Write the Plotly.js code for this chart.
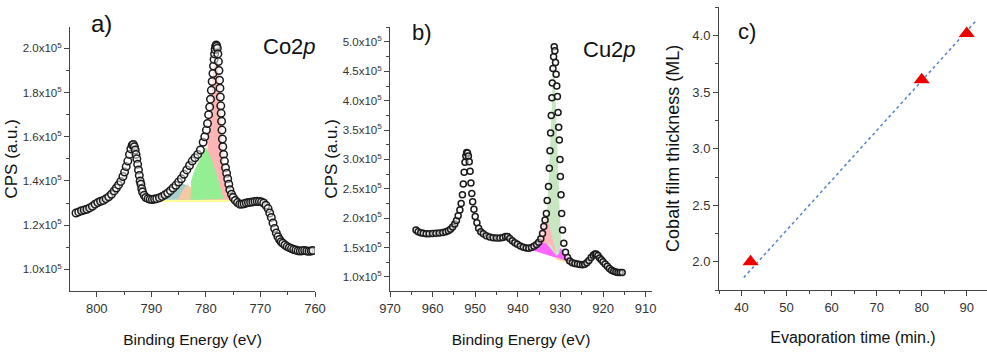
<!DOCTYPE html>
<html>
<head>
<meta charset="utf-8">
<script src="https://cdn.plot.ly/plotly-3.0.1.min.js"></script>
<style>html,body{margin:0;padding:0;background:#fff;}#chart{width:987px;height:355px;}</style>
</head>
<body>
<div id="chart"></div>
<script>
// ---------- Panel a: Co2p spectrum (counts in units of 1e5) ----------
const coBE = [
803.8,803.3,802.8,802.3,801.8,801.3,800.8,800.3,799.8,799.3,
798.8,798.3,797.8,797.3,796.8,796.4,796.0,795.6,795.2,794.9,
794.6,794.3,794.0,793.75,793.5,793.3,793.1,792.95,792.8,792.65,
792.5,792.35,792.2,792.05,791.9,791.75,791.6,791.3,791.0,790.6,
790.2,789.8,789.4,789.0,788.5,788.0,787.5,787.0,786.5,786.0,
785.5,785.0,784.5,784.0,783.5,783.0,782.5,782.0,781.5,781.0,
780.5,780.2,779.9,779.7,779.5,779.3,779.15,779.0,778.85,778.7,
778.6,778.5,778.4,778.3,778.2,778.1,778.0,777.9,777.8,777.7,
777.6,777.5,777.42,777.35,777.27,777.2,777.12,777.05,776.97,776.9,
776.75,776.6,776.4,776.2,776.0,775.8,775.6,775.3,775.0,774.6,
774.2,773.8,773.4,773.0,772.6,772.2,771.8,771.4,771.0,770.6,
770.2,769.8,769.4,769.0,768.6,768.3,768.0,767.7,767.4,767.1,
766.8,766.5,766.2,765.9,765.5,765.1,764.7,764.3,763.9,763.5,
763.1,762.7,762.3,761.9,761.5,761.1,760.7,760.4];
const coCPS = [
1.255,1.26,1.265,1.268,1.272,1.278,1.285,1.295,1.302,1.308,
1.312,1.32,1.328,1.34,1.355,1.368,1.382,1.398,1.42,1.44,
1.465,1.49,1.52,1.545,1.562,1.565,1.555,1.54,1.52,1.50,
1.475,1.45,1.425,1.40,1.385,1.365,1.35,1.335,1.325,1.32,
1.317,1.316,1.318,1.32,1.324,1.33,1.337,1.345,1.356,1.368,
1.38,1.395,1.41,1.43,1.45,1.47,1.49,1.505,1.52,1.54,
1.575,1.60,1.63,1.66,1.70,1.735,1.77,1.81,1.85,1.886,
1.92,1.95,1.975,1.995,2.01,2.015,2.01,2.0,1.975,1.94,
1.90,1.856,1.82,1.78,1.74,1.706,1.67,1.63,1.59,1.555,
1.52,1.49,1.46,1.435,1.41,1.385,1.36,1.34,1.325,1.312,
1.302,1.295,1.295,1.297,1.30,1.302,1.304,1.305,1.307,1.308,
1.307,1.305,1.30,1.29,1.275,1.255,1.235,1.21,1.185,1.165,
1.148,1.135,1.125,1.118,1.11,1.103,1.098,1.094,1.09,1.087,
1.084,1.083,1.084,1.085,1.083,1.082,1.083,1.085];

// fitted components (Co2p), outline polygons
const coYellowX = [788.3,788.2,782.0,777.0,776.4,775.9,775.4,775.0,788.3];
const coYellowY = [1.305,1.322,1.322,1.322,1.338,1.345,1.33,1.305,1.305];
const coPeachX = [785.2,784.2,783.3,782.5,781.5,785.2];
const coPeachY = [1.315,1.36,1.385,1.36,1.315,1.315];
const coTealX = [788.0,786.5,785.3,784.3,783.5,782.5,781.5,780.2,788.0];
const coTealY = [1.315,1.34,1.37,1.39,1.38,1.355,1.33,1.315,1.315];
const coPinkX = [780.6,780.0,779.5,779.1,778.7,778.3,778.1,777.85,777.5,777.2,776.9,776.5,776.0,775.5,775.2,780.6];
const coPinkY = [1.315,1.45,1.62,1.72,1.88,1.97,1.99,1.96,1.82,1.66,1.52,1.42,1.36,1.325,1.315,1.315];
const coGreenX = [782.8,782.7,782.2,781.5,780.7,780.0,779.0,778.1,777.3,776.7,782.8];
const coGreenY = [1.315,1.40,1.44,1.48,1.52,1.555,1.50,1.435,1.37,1.318,1.315];

// ---------- Panel b: Cu2p spectrum (counts in units of 1e5) ----------
const cuBE = [
963.9,963.4,962.8,962.2,961.5,960.8,960.0,959.2,958.4,957.6,
956.9,956.3,955.8,955.3,954.8,954.4,954.0,953.6,953.3,953.0,
952.8,952.6,952.4,952.2,952.0,951.8,951.6,951.4,951.2,951.0,
950.8,950.6,950.3,950.0,949.6,949.2,948.7,948.1,947.4,946.6,
945.8,945.0,944.2,943.5,942.9,942.4,941.9,941.3,940.7,940.1,
939.4,938.7,938.0,937.4,936.8,936.2,935.6,935.1,934.6,934.2,
933.9,933.6,933.3,933.1,932.8,932.6,932.45,932.3,932.15,932.0,
931.9,931.75,931.6,931.45,931.3,931.15,931.0,930.85,930.7,930.55,
930.4,930.25,930.1,930.0,929.85,929.7,929.5,929.2,928.8,928.3,
927.8,927.2,926.6,926.0,925.4,924.8,924.3,923.8,923.3,922.8,
922.3,921.9,921.6,921.2,920.8,920.4,920.0,919.5,919.0,918.5,
918.0,917.5,917.0,916.5,916.0,915.5];
const cuCPS = [
1.80,1.77,1.75,1.744,1.735,1.735,1.74,1.742,1.748,1.755,
1.77,1.785,1.81,1.85,1.90,1.96,2.04,2.14,2.25,2.40,
2.58,2.78,2.95,3.06,3.12,3.11,3.06,2.96,2.80,2.60,
2.42,2.28,2.15,2.03,1.92,1.83,1.77,1.735,1.70,1.678,
1.668,1.662,1.662,1.672,1.69,1.686,1.655,1.615,1.58,1.555,
1.528,1.505,1.49,1.488,1.50,1.52,1.55,1.59,1.65,1.74,
1.86,1.97,2.08,2.30,2.54,2.85,3.15,3.45,3.75,4.05,
4.30,4.55,4.75,4.92,4.85,4.65,4.45,4.25,4.07,3.80,
3.55,3.33,3.00,2.71,2.40,2.08,1.80,1.574,1.42,1.33,
1.27,1.24,1.23,1.22,1.21,1.208,1.215,1.24,1.28,1.33,
1.37,1.388,1.39,1.365,1.32,1.29,1.26,1.22,1.18,1.145,
1.115,1.095,1.082,1.077,1.074,1.073];

// fitted components (Cu2p), outline polygons
const cuMagentaX = [937.3,936.0,934.8,933.5,932.5,931.5,930.5,929.5,928.5,927.3,926.0,925.3,925.3,931.2,937.3];
const cuMagentaY = [1.48,1.54,1.59,1.62,1.63,1.60,1.53,1.45,1.36,1.28,1.23,1.21,1.20,1.33,1.47];
const cuPeachX = [931.0,928.0,925.3,925.3,928.0,931.0];
const cuPeachY = [1.33,1.265,1.20,1.18,1.24,1.295];
const cuGreenX = [933.4,933.0,932.5,932.0,931.8,931.6,931.4,931.0,930.6,930.2,929.8,930.3,930.9,933.4];
const cuGreenY = [1.58,2.2,3.0,3.9,4.6,4.85,4.6,3.9,3.0,2.2,1.6,1.40,1.36,1.58];
const cuPinkX = [935.5,935.0,934.3,933.7,933.2,932.6,932.0,931.4,931.0,932.5,935.5];
const cuPinkY = [1.60,1.70,1.85,1.98,2.04,1.86,1.66,1.48,1.40,1.56,1.60];

// ---------- Panel c: film thickness vs evaporation time ----------
const evapTime = [42, 80, 90];
const thickness = [2.0, 3.61, 4.02];
const fitTime = [40.5, 92];
const fitThick = [1.86, 4.13];

// tick labels
const coTickVals = [1.0, 1.2, 1.4, 1.6, 1.8, 2.0];
const coTickText = coTickVals.map(v => v.toFixed(1) + 'x10<sup>5</sup>');
const cuTickVals = [1.0, 1.5, 2.0, 2.5, 3.0, 3.5, 4.0, 4.5, 5.0];
const cuTickText = cuTickVals.map(v => v.toFixed(1) + 'x10<sup>5</sup>');

// ---------- build ----------
function poly(x, y, color, xa, ya) {
  return {x: x, y: y, xaxis: xa, yaxis: ya, type: 'scatter', mode: 'lines',
          fill: 'toself', fillcolor: color, line: {width: 0, color: color},
          hoverinfo: 'skip', showlegend: false};
}
const dataMarker = (sz) => ({symbol: 'circle', size: sz, color: 'rgba(255,255,255,0.5)',
                             line: {color: '#1a1a1a', width: 1.5}});

const traces = [
  poly(coYellowX, coYellowY, '#ffff99', 'x', 'y'),
  poly(coTealX, coTealY, '#a6cfcd', 'x', 'y'),
  poly(coPeachX, coPeachY, '#f5c9a3', 'x', 'y'),
  poly(coPinkX, coPinkY, '#ffb5b5', 'x', 'y'),
  poly(coGreenX, coGreenY, '#94ee94', 'x', 'y'),
  {x: coBE, y: coCPS, xaxis: 'x', yaxis: 'y', type: 'scatter', mode: 'markers',
   marker: dataMarker(7.5), showlegend: false},

  poly(cuMagentaX, cuMagentaY, '#ff66ff', 'x2', 'y2'),
  poly(cuPeachX, cuPeachY, '#ffcfa8', 'x2', 'y2'),
  poly(cuGreenX, cuGreenY, '#c8e6c2', 'x2', 'y2'),
  poly(cuPinkX, cuPinkY, '#ffb8b8', 'x2', 'y2'),
  {x: cuBE, y: cuCPS, xaxis: 'x2', yaxis: 'y2', type: 'scatter', mode: 'markers',
   marker: dataMarker(6), showlegend: false},

  {x: fitTime, y: fitThick, xaxis: 'x3', yaxis: 'y3', type: 'scatter', mode: 'lines',
   line: {color: '#5a88cc', width: 1.6, dash: 'dot'}, showlegend: false},
  {x: evapTime, y: thickness, xaxis: 'x3', yaxis: 'y3', type: 'scatter', mode: 'markers',
   marker: {symbol: 'triangle-up', size: 14, color: '#ee0000', line: {width: 0}}, showlegend: false}
];

const W = 987, H = 355;
const tickFont = {family: 'Liberation Sans Narrow, Arial Narrow, Liberation Sans, Arial, sans-serif', size: 11.5, color: '#333'};
const xTickFont = Object.assign({}, tickFont, {size: 13});
const beFont = {family: 'Liberation Sans, Arial, sans-serif', size: 15.5, color: '#111'};
const titleFont = {family: 'Liberation Sans, Arial, sans-serif', size: 16, color: '#111'};
const axBase = {showline: true, linecolor: '#444', linewidth: 1, ticks: 'outside', ticklen: 5,
                tickcolor: '#444', tickwidth: 1, showgrid: false, zeroline: false,
                tickfont: tickFont, automargin: false, fixedrange: true};

function label(text, px, py, size) {
  return {text: text, x: px / W, y: 1 - py / H, xref: 'paper', yref: 'paper', showarrow: false,
          xanchor: 'center', yanchor: 'middle',
          font: {family: 'Liberation Sans, Arial, sans-serif', size: size, color: '#111'}};
}

const layout = {
  width: W, height: H, autosize: false,
  margin: {l: 0, r: 0, t: 0, b: 0},
  paper_bgcolor: '#fff', plot_bgcolor: 'rgba(0,0,0,0)',
  showlegend: false,
  xaxis: Object.assign({}, axBase, {domain: [70/W, 315/W], range: [804.9, 760], anchor: 'y',
        dtick: 10, tick0: 0, tickfont: xTickFont,
        minor: {ticks: 'outside', ticklen: 3, dtick: 5, tick0: 0, tickcolor: '#444'},
        title: {text: 'Binding Energy (eV)', font: beFont, standoff: 19}}),
  yaxis: Object.assign({}, axBase, {domain: [1 - 291/H, 1 - 26.7/H], range: [0.902, 2.098], anchor: 'x',
        tickmode: 'array', tickvals: coTickVals, ticktext: coTickText,
        minor: {ticks: 'outside', ticklen: 3, dtick: 0.1, tick0: 0, tickcolor: '#444'},
        title: {text: 'CPS (a.u.)', font: Object.assign({}, titleFont, {size: 17}), standoff: 0}}),
  xaxis2: Object.assign({}, axBase, {domain: [390/W, 652/W], range: [970, 908.5], anchor: 'y2',
        dtick: 10, tick0: 0, tickfont: xTickFont,
        minor: {ticks: 'outside', ticklen: 3, dtick: 5, tick0: 0, tickcolor: '#444'},
        title: {text: 'Binding Energy (eV)', font: beFont, standoff: 19}}),
  yaxis2: Object.assign({}, axBase, {domain: [1 - 291/H, 1 - 26.7/H], range: [0.76, 5.26], anchor: 'x2',
        tickmode: 'array', tickvals: cuTickVals, ticktext: cuTickText,
        minor: {ticks: 'outside', ticklen: 3, dtick: 0.25, tick0: 0, tickcolor: '#444'},
        title: {text: 'CPS (a.u.)', font: Object.assign({}, titleFont, {size: 17}), standoff: 0}}),
  xaxis3: Object.assign({}, axBase, {domain: [719/W, 1], range: [35, 94.5], anchor: 'y3',
        dtick: 10, tick0: 0, tickfont: xTickFont,
        minor: {ticks: 'outside', ticklen: 3, dtick: 5, tick0: 0, tickcolor: '#444'},
        title: {text: 'Evaporation time (min.)', font: titleFont, standoff: 18}}),
  yaxis3: Object.assign({}, axBase, {domain: [1 - 290/H, 1 - 6.7/H], range: [1.75, 4.257], anchor: 'x3',
        dtick: 0.5, tick0: 0, tickformat: '.1f', tickfont: xTickFont,
        minor: {ticks: 'outside', ticklen: 3, dtick: 0.25, tick0: 0, tickcolor: '#444'},
        title: {text: 'Cobalt film thickness (ML)', font: Object.assign({}, titleFont, {size: 18}), standoff: 8}}),
  annotations: [
    label('a)', 101, 23, 24),
    label('Co2<i>p</i>', 289, 46, 22),
    label('b)', 422, 33, 22),
    label('Cu2<i>p</i>', 609, 49, 22),
    label('c)', 747, 32, 22)
  ]
};

Plotly.newPlot('chart', traces, layout, {displayModeBar: false, staticPlot: true});
</script>
</body>
</html>
